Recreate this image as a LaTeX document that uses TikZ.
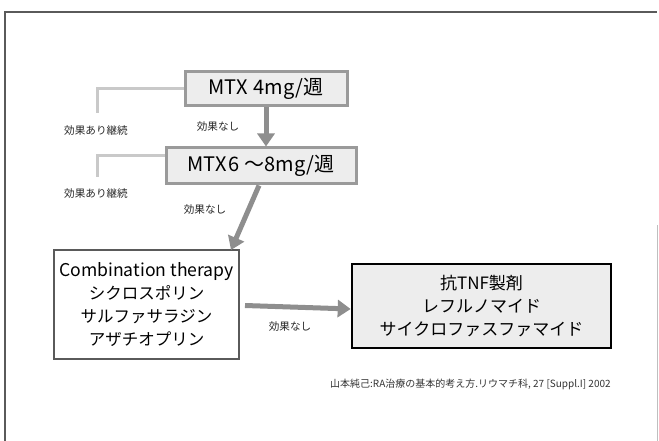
\documentclass[tikz,border=0pt]{standalone}
\usepackage{fontspec}
\setmainfont{Noto Sans CJK JP}
\usetikzlibrary{arrows.meta}
\definecolor{boxgray}{HTML}{EDEDED}
\definecolor{edgegray}{HTML}{9A9A9A}
\definecolor{arrowgray}{HTML}{8E8E8E}
\definecolor{bracketgray}{HTML}{C9C9C9}
\definecolor{framegray}{HTML}{5A5A5A}
\tikzset{
  mtxbox/.style={draw=edgegray, line width=3pt, fill=boxgray, inner sep=0pt, font=\fontsize{20}{22}\selectfont},
  combobox/.style={draw=framegray, line width=2pt, fill=white, inner sep=0pt, align=center, font=\fontsize{16.5}{23}\selectfont},
  tnfbox/.style={draw=black, line width=2.6pt, fill=boxgray, inner sep=0pt, align=center, font=\fontsize{17}{23}\selectfont},
  flowarrow/.style={draw=arrowgray, line width=5pt, -{Triangle[length=13pt,width=17pt]}},
  bracket/.style={draw=bracketgray, line width=3pt},
  lbl/.style={font=\fontsize{10.6}{12}\selectfont, text=black!85, inner sep=0pt},
  cite/.style={font=\fontsize{10}{12}\selectfont, text=black!80, inner sep=0pt}
}
\begin{document}
\begin{tikzpicture}[x=1pt,y=-1pt]
\useasboundingbox (0,0) rectangle (659,441);
% frame
\draw[framegray, line width=1.2pt] (5,441) -- (5,12) -- (657,12);
\draw[black!25, line width=0.8pt] (657,225) -- (657,441);
% boxes
\node[mtxbox, minimum width=162pt, minimum height=34pt] (mtx4) at (266,89) {MTX\hspace{6pt}4mg/週};
\node[mtxbox, minimum width=190pt, minimum height=36pt] (mtx6) at (261,166) {MTX\hspace{2pt}6 〜8mg/週};
\node[combobox, minimum width=185pt, minimum height=109pt] (combo) at (146.5,304.5)
  {{\fontsize{17.6}{23}\selectfont Combination therapy}\\シクロスポリン\\サルファサラジン\\アザチオプリン};
\node[tnfbox, minimum width=259pt, minimum height=84pt] (tnf) at (481.5,306)
  {抗TNF製剤\\レフルノマイド\\サイクロファスファマイド};
% brackets
\coordinate (b1) at (97,89);
\coordinate (b1e) at (97,113);
\coordinate (b2) at (97,156);
\coordinate (b2e) at (97,177);
\draw[bracket] (mtx4.west) -- (b1) -- (b1e);
\draw[bracket] (mtx6.west |- b2) -- (b2) -- (b2e);
% arrows
\draw[flowarrow] (mtx4.south) -- (mtx4.south |- mtx6.north);
\draw[flowarrow] ([xshift=-2pt]mtx6.south) -- ([xshift=-9pt,yshift=-1pt]combo.north east);
\draw[flowarrow] ([xshift=5pt,yshift=-1pt]combo.east) -- ([yshift=-3pt]tnf.west);
% labels
\node[lbl] (l1) at (96,130) {効果あり継続};
\node[lbl] (l2) at (96,193) {効果あり継続};
\node[lbl] (n1) at (218,127) {効果なし};
\node[lbl] (n2) at (205,210) {効果なし};
\node[lbl] (n3) at (290,327) {効果なし};
\node[cite, anchor=west] (src) at (330,384) {山本純己:RA治療の基本的考え方.リウマチ科, 27 [Suppl.I] 2002};
\end{tikzpicture}
\end{document}
